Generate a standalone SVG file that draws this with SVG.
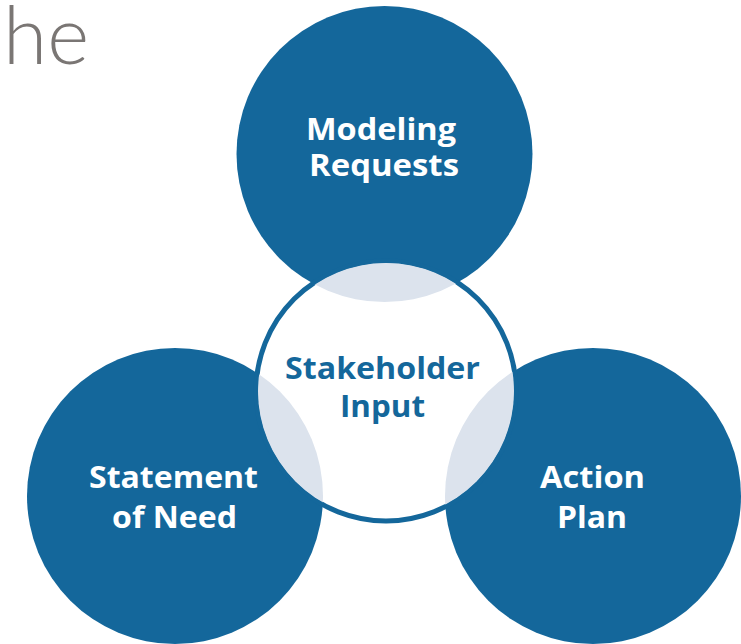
<svg xmlns="http://www.w3.org/2000/svg" width="741" height="644" viewBox="0 0 741 644">
<style>
.blue{fill:#14679b}
.lite{fill:#dce3ed}
.lbl{font-family:"Open Sans","Liberation Sans",sans-serif;font-weight:700;font-size:31px;text-anchor:middle}
.w{fill:#ffffff}
.b{fill:#14679b}
</style>
<defs>
<clipPath id="inner"><circle cx="386" cy="391" r="128"/></clipPath>
</defs>
<text x="3" y="64" font-family="Lato,'Open Sans',sans-serif" font-weight="300" font-size="80" fill="#7a7674" textLength="86" lengthAdjust="spacingAndGlyphs">he</text>
<g id="node-modeling">
<circle class="blue" cx="384.5" cy="154" r="148"/>
</g>
<g id="node-statement">
<circle class="blue" cx="175" cy="496" r="148"/>
</g>
<g id="node-action">
<circle class="blue" cx="593" cy="496" r="148"/>
</g>
<g id="node-stakeholder">
<circle cx="386" cy="391" r="130" fill="#ffffff" stroke="#14679b" stroke-width="5"/>
<g clip-path="url(#inner)">
<circle class="lite" cx="384.5" cy="154" r="148"/>
<circle class="lite" cx="175" cy="496" r="148"/>
<circle class="lite" cx="593" cy="496" r="148"/>
</g>
<text class="lbl b" x="382.5" y="379" textLength="195" lengthAdjust="spacingAndGlyphs">Stakeholder</text>
<text class="lbl b" x="382.5" y="417" textLength="85" lengthAdjust="spacingAndGlyphs">Input</text>
</g>
<g id="labels">
<text class="lbl w" x="381" y="140" textLength="150" lengthAdjust="spacingAndGlyphs">Modeling</text>
<text class="lbl w" x="384" y="176" textLength="150" lengthAdjust="spacingAndGlyphs">Requests</text>
<text class="lbl w" x="173.5" y="488" textLength="169" lengthAdjust="spacingAndGlyphs">Statement</text>
<text class="lbl w" x="174.5" y="528" textLength="125" lengthAdjust="spacingAndGlyphs">of Need</text>
<text class="lbl w" x="592.5" y="488" textLength="105" lengthAdjust="spacingAndGlyphs">Action</text>
<text class="lbl w" x="592" y="528" textLength="70" lengthAdjust="spacingAndGlyphs">Plan</text>
</g>
<g id="connectors"/>
</svg>
